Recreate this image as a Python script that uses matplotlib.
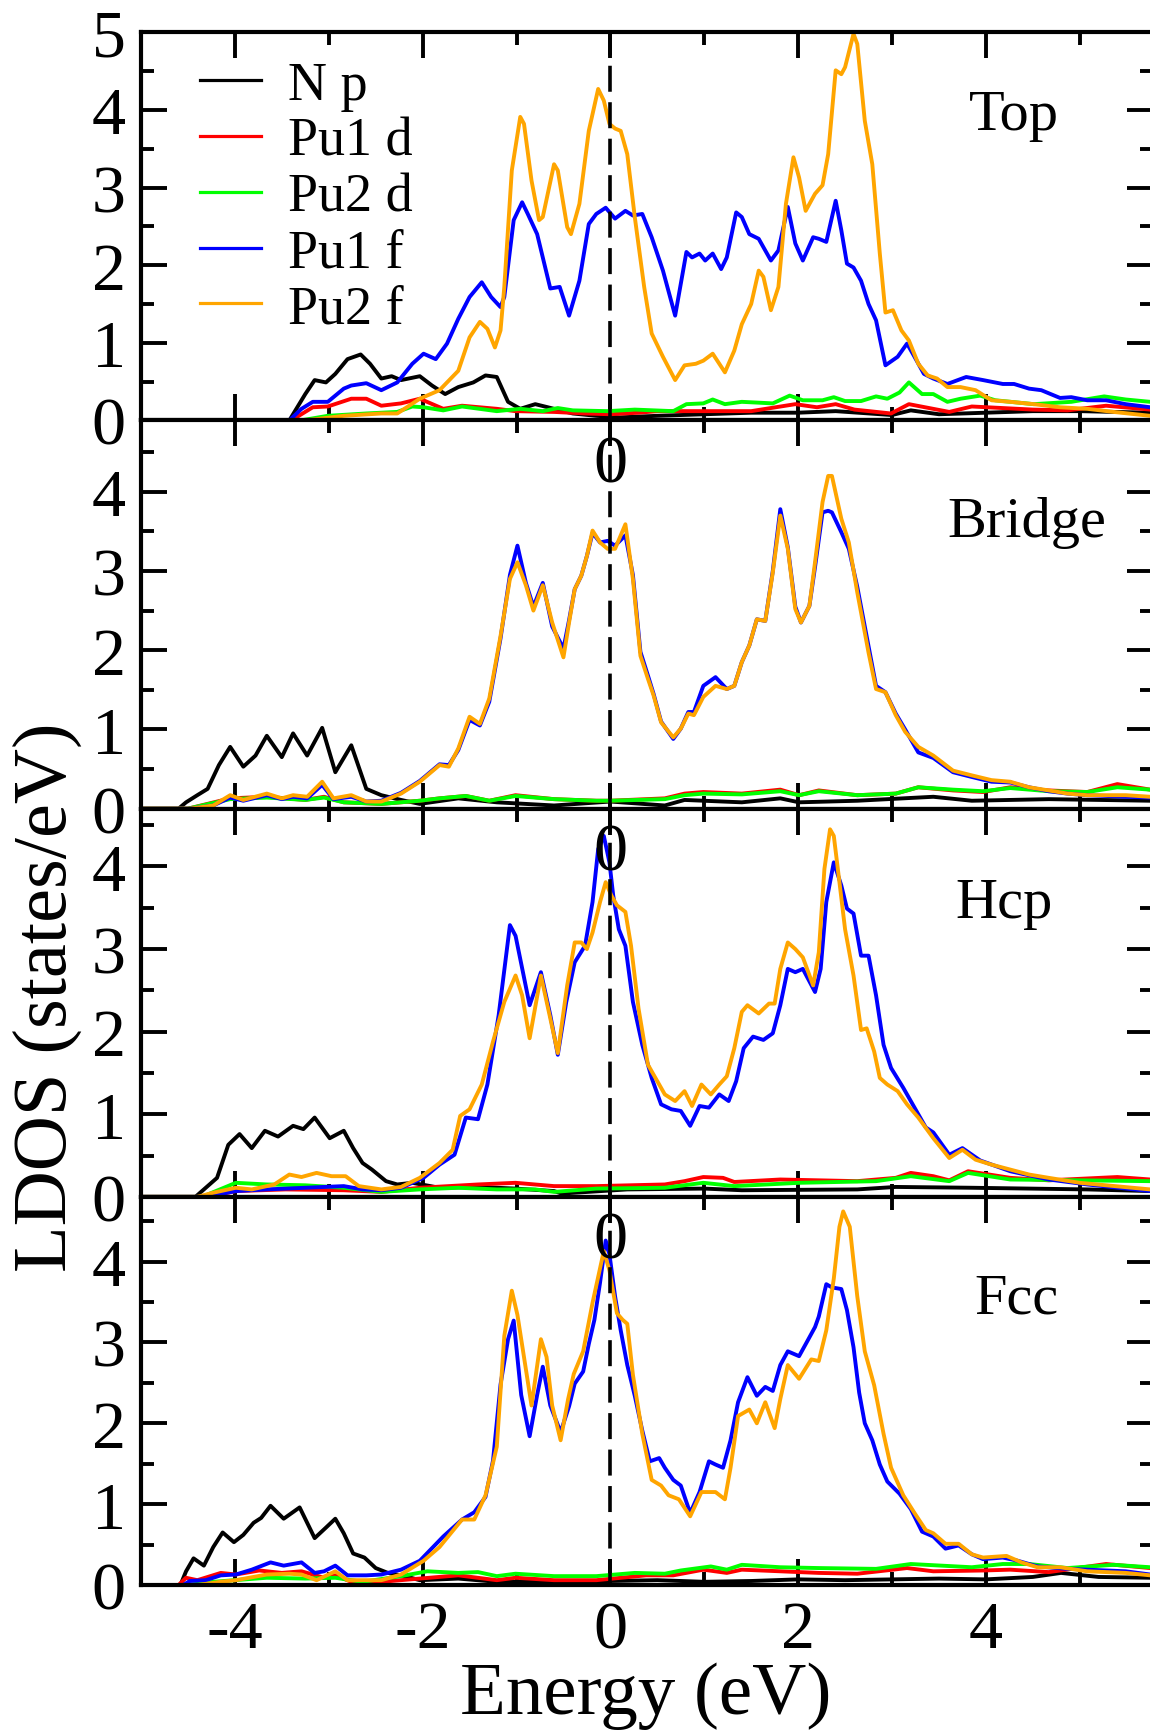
import matplotlib
matplotlib.use("Agg")
import matplotlib.pyplot as plt
from matplotlib.ticker import MultipleLocator

plt.rcParams['font.family'] = ['Liberation Serif', 'DejaVu Serif']
plt.rcParams['axes.unicode_minus'] = False

# ---------------- Top ----------------
top_np_e = [-5.0, -3.42, -3.25, -3.15, -3.03, -2.93, -2.80, -2.66, -2.56, -2.44,
            -2.33, -2.23, -2.03, -1.90, -1.76, -1.62, -1.46, -1.33, -1.21, -1.09,
            -0.96, -0.80, -0.60, -0.40, -0.15, 0.1, 0.5, 1.0, 1.5, 2.0,
            2.4, 3.0, 3.2, 3.5, 4.0, 4.5, 5.0, 5.75]
top_np = [0, 0, 0.34, 0.52, 0.49, 0.60, 0.79, 0.85, 0.73, 0.54,
          0.57, 0.52, 0.57, 0.45, 0.34, 0.43, 0.49, 0.58, 0.56, 0.24,
          0.15, 0.21, 0.15, 0.09, 0.06, 0.04, 0.06, 0.08, 0.10, 0.10,
          0.12, 0.07, 0.13, 0.08, 0.10, 0.12, 0.12, 0.10]

top_pu1d_e = [-5.0, -3.4, -3.17, -3.01, -2.76, -2.60, -2.44, -2.23, -2.03, -1.78,
              -1.58, -1.21, -1.01, -0.60, -0.27, 0.0, 0.3, 0.5, 1.0, 1.5,
              1.97, 2.2, 2.40, 2.6, 2.99, 3.18, 3.61, 3.85, 4.5, 4.87,
              5.28, 5.75]
top_pu1d = [0, 0, 0.17, 0.18, 0.28, 0.28, 0.19, 0.22, 0.28, 0.15,
            0.19, 0.15, 0.12, 0.11, 0.09, 0.08, 0.10, 0.12, 0.12, 0.12,
            0.21, 0.17, 0.21, 0.14, 0.09, 0.21, 0.11, 0.18, 0.14, 0.13,
            0.19, 0.14]

top_pu2d_e = [-5.0, -3.3, -3.01, -2.60, -2.27, -2.11, -1.99, -1.78, -1.58, -1.21,
              -0.96, -0.72, -0.56, -0.40, -0.03, 0.26, 0.67, 0.81, 0.99, 1.09,
              1.22, 1.40, 1.73, 1.91, 2.05, 2.26, 2.38, 2.50, 2.67, 2.83,
              2.95, 3.08, 3.18, 3.32, 3.44, 3.59, 3.73, 3.94, 4.10, 4.51,
              4.91, 5.26, 5.49, 5.75]
top_pu2d = [0, 0, 0.06, 0.09, 0.11, 0.18, 0.17, 0.13, 0.18, 0.12,
            0.15, 0.12, 0.16, 0.13, 0.12, 0.14, 0.12, 0.21, 0.22, 0.27,
            0.21, 0.24, 0.22, 0.32, 0.26, 0.26, 0.30, 0.25, 0.25, 0.31,
            0.28, 0.36, 0.49, 0.34, 0.34, 0.24, 0.28, 0.32, 0.26, 0.21,
            0.24, 0.31, 0.27, 0.24]

top_pu1f_e = [-5.0, -3.42, -3.29, -3.17, -3.01, -2.84, -2.76, -2.60, -2.44, -2.27,
              -2.11, -1.99, -1.86, -1.74, -1.62, -1.50, -1.37, -1.27, -1.17, -1.13,
              -1.03, -0.94, -0.88, -0.78, -0.64, -0.54, -0.44, -0.33, -0.23, -0.15,
              -0.05, 0.05, 0.16, 0.24, 0.34, 0.44, 0.56, 0.69, 0.81, 0.87,
              0.95, 1.01, 1.09, 1.18, 1.24, 1.34, 1.40, 1.48, 1.58, 1.71,
              1.79, 1.89, 1.97, 2.05, 2.16, 2.22, 2.30, 2.40, 2.46, 2.52,
              2.59, 2.67, 2.75, 2.83, 2.93, 3.06, 3.16, 3.24, 3.34, 3.44,
              3.59, 3.79, 3.97, 4.18, 4.30, 4.46, 4.59, 4.79, 4.91, 5.08,
              5.28, 5.49, 5.75]
top_pu1f = [0, 0, 0.15, 0.24, 0.24, 0.41, 0.45, 0.48, 0.39, 0.49,
            0.73, 0.86, 0.79, 0.99, 1.31, 1.59, 1.78, 1.59, 1.46, 1.59,
            2.58, 2.81, 2.66, 2.40, 1.70, 1.72, 1.35, 1.80, 2.53, 2.66,
            2.74, 2.60, 2.70, 2.64, 2.66, 2.36, 1.93, 1.35, 2.17, 2.10,
            2.15, 2.06, 2.15, 1.95, 2.10, 2.68, 2.62, 2.40, 2.34, 2.06,
            2.19, 2.75, 2.28, 2.06, 2.36, 2.34, 2.30, 2.83, 2.45, 2.02,
            1.97, 1.80, 1.50, 1.29, 0.71, 0.82, 0.99, 0.82, 0.60, 0.54,
            0.47, 0.56, 0.52, 0.47, 0.47, 0.41, 0.39, 0.29, 0.30, 0.26,
            0.26, 0.21, 0.17]

top_pu2f_e = [-5.0, -3.25, -2.84, -2.44, -2.27, -2.03, -1.82, -1.62, -1.50, -1.39,
              -1.31, -1.23, -1.17, -1.13, -1.05, -0.96, -0.92, -0.84, -0.76, -0.72,
              -0.60, -0.56, -0.46, -0.42, -0.33, -0.23, -0.13, -0.07, -0.01, 0.05,
              0.11, 0.18, 0.26, 0.36, 0.44, 0.56, 0.69, 0.79, 0.91, 0.99,
              1.09, 1.22, 1.32, 1.40, 1.50, 1.58, 1.63, 1.71, 1.79, 1.87,
              1.95, 2.01, 2.08, 2.18, 2.26, 2.32, 2.40, 2.46, 2.50, 2.59,
              2.63, 2.71, 2.79, 2.87, 2.93, 3.01, 3.10, 3.18, 3.28, 3.38,
              3.48, 3.59, 3.73, 3.89, 4.06, 4.26, 4.51, 4.79, 5.08, 5.36,
              5.75]
top_pu2f = [0, 0, 0.06, 0.09, 0.09, 0.28, 0.39, 0.64, 1.07, 1.27,
            1.18, 0.94, 1.16, 1.72, 3.22, 3.91, 3.82, 3.09, 2.58, 2.62,
            3.30, 3.22, 2.49, 2.40, 2.79, 3.73, 4.27, 4.12, 3.82, 3.76,
            3.73, 3.43, 2.62, 1.72, 1.12, 0.82, 0.52, 0.71, 0.73, 0.77,
            0.86, 0.62, 0.90, 1.24, 1.50, 1.93, 1.85, 1.42, 1.72, 2.79,
            3.39, 3.13, 2.70, 2.92, 3.03, 3.43, 4.51, 4.46, 4.55, 4.98,
            4.85, 3.86, 3.30, 2.15, 1.39, 1.42, 1.16, 1.03, 0.73, 0.58,
            0.54, 0.43, 0.43, 0.39, 0.26, 0.24, 0.21, 0.17, 0.15, 0.11,
            0.06]

# ---------------- Bridge ----------------
br_np_e = [-5.0, -4.60, -4.52, -4.40, -4.29, -4.17, -4.05, -3.91, -3.78, -3.66,
           -3.50, -3.38, -3.23, -3.07, -2.93, -2.76, -2.60, -2.44, -2.23, -2.03,
           -1.62, -1.21, -0.60, 0.0, 0.58, 0.79, 1.40, 1.81, 2.01, 2.63,
           3.44, 3.85, 4.67, 5.75]
br_np = [0, 0, 0.08, 0.17, 0.25, 0.55, 0.78, 0.53, 0.67, 0.92,
         0.65, 0.95, 0.67, 1.02, 0.46, 0.80, 0.25, 0.17, 0.11, 0.06,
         0.13, 0.08, 0.04, 0.09, 0.04, 0.11, 0.08, 0.13, 0.08, 0.10,
         0.15, 0.10, 0.12, 0.10]

br_d_e = [-5.0, -4.5, -4.05, -3.66, -3.25, -3.05, -2.84, -2.44, -2.03, -1.82,
          -1.54, -1.29, -1.01, -0.60, -0.15, 0.0, 0.58, 0.79, 0.99, 1.40,
          1.81, 2.01, 2.22, 2.63, 3.04, 3.28, 3.65, 3.97, 4.26, 4.67,
          5.08, 5.40, 5.75]
br_pu1d = [0, 0, 0.13, 0.15, 0.11, 0.15, 0.08, 0.06, 0.10, 0.13,
           0.16, 0.10, 0.17, 0.12, 0.10, 0.10, 0.13, 0.19, 0.21, 0.19,
           0.24, 0.17, 0.23, 0.17, 0.19, 0.27, 0.23, 0.21, 0.27, 0.23,
           0.21, 0.31, 0.24]
br_pu2d = [0, 0, 0.12, 0.14, 0.11, 0.14, 0.08, 0.06, 0.10, 0.13,
           0.16, 0.10, 0.16, 0.12, 0.10, 0.10, 0.12, 0.17, 0.19, 0.18,
           0.22, 0.17, 0.22, 0.17, 0.19, 0.27, 0.24, 0.22, 0.26, 0.22,
           0.21, 0.27, 0.24]

br_f_e = [-5.0, -4.48, -4.23, -4.05, -3.91, -3.66, -3.50, -3.38, -3.23, -3.07,
          -2.95, -2.76, -2.60, -2.44, -2.23, -2.03, -1.82, -1.72, -1.62, -1.50,
          -1.39, -1.29, -1.17, -1.07, -0.99, -0.90, -0.82, -0.72, -0.62, -0.50,
          -0.44, -0.38, -0.31, -0.25, -0.19, -0.11, -0.03, 0.05, 0.16, 0.24,
          0.32, 0.40, 0.46, 0.54, 0.67, 0.75, 0.83, 0.89, 0.99, 1.12,
          1.24, 1.32, 1.40, 1.48, 1.56, 1.65, 1.73, 1.81, 1.89, 1.97,
          2.03, 2.12, 2.18, 2.26, 2.32, 2.36, 2.46, 2.54, 2.63, 2.75,
          2.83, 2.93, 3.04, 3.14, 3.28, 3.44, 3.65, 3.85, 4.06, 4.26,
          4.46, 4.67, 4.87, 5.08, 5.49, 5.75]
br_pu1f = [0, 0, 0.04, 0.14, 0.10, 0.17, 0.12, 0.15, 0.13, 0.30,
           0.12, 0.15, 0.09, 0.10, 0.20, 0.35, 0.56, 0.55, 0.74, 1.12,
           1.05, 1.35, 2.15, 2.95, 3.32, 2.85, 2.55, 2.85, 2.30, 2.02,
           2.38, 2.77, 2.94, 3.19, 3.48, 3.36, 3.38, 3.32, 3.45, 2.95,
           1.98, 1.68, 1.45, 1.10, 0.88, 1.01, 1.22, 1.22, 1.55, 1.66,
           1.51, 1.55, 1.85, 2.06, 2.39, 2.37, 3.00, 3.78, 3.30, 2.55,
           2.35, 2.56, 3.05, 3.74, 3.76, 3.74, 3.49, 3.28, 2.80, 2.05,
           1.55, 1.47, 1.20, 1.00, 0.71, 0.64, 0.46, 0.40, 0.34, 0.33,
           0.27, 0.22, 0.19, 0.17, 0.15, 0.14]
br_pu2f = [0, 0, 0.04, 0.17, 0.11, 0.19, 0.13, 0.17, 0.15, 0.34,
           0.13, 0.17, 0.09, 0.09, 0.19, 0.34, 0.55, 0.53, 0.76, 1.16,
           1.07, 1.39, 2.18, 2.90, 3.11, 2.82, 2.50, 2.82, 2.35, 1.91,
           2.35, 2.77, 2.94, 3.19, 3.51, 3.36, 3.28, 3.28, 3.59, 2.90,
           1.93, 1.64, 1.43, 1.09, 0.90, 1.01, 1.20, 1.18, 1.41, 1.55,
           1.51, 1.55, 1.85, 2.06, 2.39, 2.37, 2.98, 3.70, 3.28, 2.52,
           2.35, 2.56, 3.11, 3.87, 4.20, 4.20, 3.66, 3.36, 2.73, 1.97,
           1.51, 1.47, 1.18, 0.97, 0.78, 0.67, 0.48, 0.42, 0.36, 0.34,
           0.27, 0.23, 0.19, 0.17, 0.17, 0.15]

# ---------------- Hcp ----------------
hcp_np_e = [-5.0, -4.42, -4.31, -4.19, -4.07, -3.95, -3.82, -3.68, -3.54, -3.38,
            -3.27, -3.15, -2.99, -2.84, -2.74, -2.64, -2.54, -2.39, -2.27, -2.11,
            -1.82, -1.41, -1.01, -0.60, -0.52, 0.18, 1.0, 1.40, 2.63, 3.04,
            3.85, 5.08, 5.75]
hcp_np = [0, 0, 0.11, 0.23, 0.63, 0.76, 0.59, 0.80, 0.73, 0.86,
          0.82, 0.96, 0.71, 0.80, 0.59, 0.41, 0.33, 0.19, 0.15, 0.17,
          0.11, 0.12, 0.10, 0.07, 0.04, 0.09, 0.10, 0.08, 0.09, 0.12,
          0.11, 0.09, 0.07]

hcp_pu1d_e = [-5.0, -4.3, -3.99, -3.46, -2.84, -2.44, -2.03, -1.41, -1.01, -0.60,
              -0.15, 0.58, 0.79, 0.99, 1.20, 1.32, 1.81, 2.63, 3.04, 3.20,
              3.44, 3.61, 3.81, 4.26, 4.67, 5.40, 5.75]
hcp_pu1d = [0, 0, 0.07, 0.09, 0.08, 0.06, 0.11, 0.15, 0.17, 0.13,
            0.13, 0.15, 0.19, 0.24, 0.23, 0.18, 0.21, 0.19, 0.23, 0.29,
            0.25, 0.20, 0.31, 0.23, 0.20, 0.24, 0.21]

hcp_pu2d_e = [-5.0, -4.35, -3.99, -3.66, -3.25, -2.84, -2.44, -2.03, -1.62, -1.21,
              -0.80, -0.60, -0.15, 0.58, 0.99, 1.32, 2.01, 2.83, 3.20, 3.61,
              3.81, 4.26, 5.00, 5.75]
hcp_pu2d = [0, 0, 0.17, 0.15, 0.14, 0.11, 0.06, 0.09, 0.11, 0.09,
            0.09, 0.06, 0.10, 0.11, 0.17, 0.13, 0.17, 0.19, 0.25, 0.19,
            0.29, 0.21, 0.20, 0.19]

hcp_pu1f_e = [-5.0, -4.3, -3.99, -3.66, -3.25, -2.84, -2.64, -2.44, -2.23, -1.99,
              -1.82, -1.66, -1.54, -1.41, -1.31, -1.19, -1.07, -1.01, -0.86, -0.74,
              -0.64, -0.56, -0.47, -0.38, -0.27, -0.19, -0.13, -0.07, -0.01, 0.03,
              0.09, 0.16, 0.24, 0.34, 0.44, 0.54, 0.65, 0.75, 0.85, 0.95,
              1.05, 1.16, 1.26, 1.34, 1.42, 1.52, 1.63, 1.73, 1.81, 1.89,
              1.97, 2.05, 2.18, 2.24, 2.30, 2.38, 2.46, 2.52, 2.59, 2.67,
              2.75, 2.83, 2.91, 2.99, 3.12, 3.24, 3.36, 3.44, 3.61, 3.75,
              3.94, 4.26, 4.67, 5.08, 5.75]
hcp_pu1f = [0, 0, 0.07, 0.09, 0.11, 0.13, 0.09, 0.08, 0.11, 0.23,
            0.39, 0.51, 0.96, 0.94, 1.36, 2.20, 3.29, 3.16, 2.32, 2.72,
            2.20, 1.72, 2.36, 2.84, 3.04, 3.57, 4.21, 4.37, 4.05, 3.65,
            3.24, 3.04, 2.36, 1.84, 1.44, 1.12, 1.06, 1.04, 0.86, 1.10,
            1.08, 1.24, 1.16, 1.40, 1.80, 1.94, 1.90, 1.98, 2.32, 2.76,
            2.72, 2.76, 2.48, 2.76, 3.57, 4.05, 3.77, 3.49, 3.43, 2.92,
            2.92, 2.44, 1.84, 1.56, 1.32, 1.08, 0.84, 0.78, 0.51, 0.59,
            0.44, 0.31, 0.21, 0.15, 0.07]

hcp_pu2f_e = [-5.0, -4.4, -4.23, -3.99, -3.82, -3.58, -3.42, -3.29, -3.13, -2.97,
              -2.82, -2.68, -2.44, -2.23, -2.03, -1.82, -1.68, -1.60, -1.50, -1.37,
              -1.25, -1.13, -1.01, -0.94, -0.86, -0.74, -0.64, -0.56, -0.46, -0.38,
              -0.31, -0.25, -0.19, -0.11, -0.05, 0.01, 0.07, 0.16, 0.22, 0.30,
              0.40, 0.48, 0.58, 0.69, 0.79, 0.87, 0.97, 1.07, 1.16, 1.24,
              1.32, 1.40, 1.46, 1.58, 1.69, 1.75, 1.81, 1.89, 1.97, 2.05,
              2.16, 2.22, 2.28, 2.34, 2.38, 2.44, 2.50, 2.59, 2.67, 2.73,
              2.81, 2.87, 2.95, 3.06, 3.16, 3.28, 3.44, 3.61, 3.75, 3.89,
              4.06, 4.26, 4.46, 4.67, 5.00, 5.28, 5.75]
hcp_pu2f = [0, 0, 0.05, 0.11, 0.09, 0.15, 0.27, 0.24, 0.29, 0.25,
            0.25, 0.13, 0.09, 0.12, 0.23, 0.41, 0.57, 0.98, 1.06, 1.36,
            1.88, 2.36, 2.68, 2.44, 1.92, 2.68, 2.16, 1.74, 2.56, 3.08,
            3.08, 3.00, 3.20, 3.57, 3.81, 3.65, 3.53, 3.45, 3.04, 2.28,
            1.60, 1.44, 1.24, 1.16, 1.28, 1.10, 1.36, 1.24, 1.36, 1.46,
            1.80, 2.24, 2.32, 2.22, 2.34, 2.34, 2.76, 3.08, 3.00, 2.90,
            2.56, 2.96, 3.97, 4.45, 4.37, 3.81, 3.24, 2.68, 2.02, 2.04,
            1.76, 1.44, 1.36, 1.28, 1.12, 0.96, 0.71, 0.47, 0.57, 0.45,
            0.39, 0.33, 0.27, 0.23, 0.17, 0.14, 0.09]

# ---------------- Fcc ----------------
fcc_np_e = [-5.0, -4.58, -4.52, -4.44, -4.33, -4.23, -4.13, -4.01, -3.91, -3.80,
            -3.72, -3.62, -3.48, -3.31, -3.15, -3.03, -2.93, -2.84, -2.74, -2.62,
            -2.50, -2.37, -2.19, -2.03, -1.62, -1.21, -0.60, 0.0, 0.5, 1.0,
            1.5, 2.0, 2.5, 3.0, 3.5, 4.0, 4.5, 4.8, 5.2, 5.75]
fcc_np = [0, 0, 0.17, 0.33, 0.24, 0.47, 0.65, 0.53, 0.62, 0.77,
          0.83, 0.98, 0.82, 0.96, 0.58, 0.71, 0.82, 0.64, 0.39, 0.34,
          0.21, 0.15, 0.11, 0.06, 0.08, 0.04, 0.04, 0.05, 0.06, 0.04,
          0.05, 0.07, 0.06, 0.07, 0.08, 0.07, 0.10, 0.15, 0.10, 0.09]

fcc_pu1d_e = [-5.0, -4.6, -4.52, -4.40, -4.15, -3.99, -3.74, -3.50, -3.29, -3.05,
              -2.93, -2.76, -2.44, -2.03, -1.62, -1.21, -1.01, -0.60, -0.15, 0.38,
              0.67, 0.99, 1.24, 1.40, 1.81, 2.22, 2.63, 3.16, 3.44, 3.97,
              4.26, 4.67, 5.28, 5.75]
fcc_pu1d = [0, 0, 0.09, 0.06, 0.15, 0.13, 0.18, 0.15, 0.17, 0.09,
            0.12, 0.04, 0.04, 0.08, 0.12, 0.06, 0.09, 0.06, 0.06, 0.12,
            0.12, 0.19, 0.15, 0.19, 0.17, 0.15, 0.14, 0.21, 0.17, 0.18,
            0.19, 0.16, 0.26, 0.21]

fcc_pu2d_e = [-5.0, -4.5, -4.23, -3.66, -3.25, -2.93, -2.64, -2.23, -1.95, -1.62,
              -1.41, -1.21, -1.01, -0.60, -0.15, 0.26, 0.58, 0.75, 1.07, 1.24,
              1.40, 1.81, 2.22, 2.83, 3.20, 3.85, 4.18, 4.46, 4.87, 5.36,
              5.75]
fcc_pu2d = [0, 0, 0.04, 0.09, 0.08, 0.09, 0.04, 0.11, 0.17, 0.15,
            0.16, 0.11, 0.14, 0.11, 0.11, 0.15, 0.14, 0.18, 0.23, 0.19,
            0.25, 0.22, 0.21, 0.20, 0.26, 0.22, 0.26, 0.26, 0.21, 0.25,
            0.22]

fcc_pu1f_e = [-5.0, -4.55, -4.48, -4.31, -4.15, -3.99, -3.82, -3.62, -3.48, -3.29,
              -3.15, -3.05, -2.93, -2.80, -2.60, -2.44, -2.23, -2.03, -1.78, -1.58,
              -1.45, -1.33, -1.25, -1.17, -1.09, -1.03, -0.95, -0.86, -0.78, -0.72,
              -0.64, -0.53, -0.44, -0.38, -0.29, -0.23, -0.17, -0.11, -0.05, -0.01,
              0.05, 0.11, 0.18, 0.26, 0.34, 0.42, 0.52, 0.58, 0.67, 0.75,
              0.85, 0.95, 1.05, 1.12, 1.20, 1.28, 1.36, 1.46, 1.56, 1.65,
              1.73, 1.81, 1.89, 2.01, 2.10, 2.18, 2.22, 2.30, 2.36, 2.46,
              2.52, 2.59, 2.65, 2.71, 2.79, 2.87, 2.95, 3.08, 3.20, 3.32,
              3.44, 3.57, 3.71, 3.85, 3.97, 4.18, 4.34, 4.55, 4.87, 5.08,
              5.49, 5.75]
fcc_pu1f = [0, 0, 0.05, 0.06, 0.12, 0.13, 0.19, 0.28, 0.24, 0.28,
            0.15, 0.17, 0.24, 0.12, 0.12, 0.13, 0.19, 0.30, 0.60, 0.81,
            0.90, 1.09, 1.54, 2.48, 3.04, 3.27, 2.35, 1.84, 2.35, 2.70,
            2.22, 1.89, 2.21, 2.49, 2.64, 2.98, 3.28, 3.74, 4.26, 4.09,
            3.57, 3.15, 2.72, 2.34, 1.91, 1.53, 1.57, 1.45, 1.30, 1.23,
            0.89, 1.15, 1.53, 1.49, 1.45, 1.79, 2.26, 2.57, 2.34, 2.45,
            2.40, 2.72, 2.89, 2.83, 3.02, 3.19, 3.32, 3.72, 3.68, 3.66,
            3.40, 2.94, 2.38, 2.00, 1.79, 1.49, 1.28, 1.13, 0.94, 0.66,
            0.60, 0.45, 0.49, 0.38, 0.32, 0.34, 0.30, 0.23, 0.20, 0.19,
            0.17, 0.13]

fcc_pu2f_e = [-5.0, -4.4, -4.15, -3.99, -3.66, -3.42, -3.29, -3.13, -2.93, -2.80,
              -2.44, -2.23, -1.99, -1.82, -1.58, -1.45, -1.33, -1.21, -1.13, -1.05,
              -0.99, -0.84, -0.74, -0.68, -0.62, -0.53, -0.45, -0.39, -0.29, -0.19,
              -0.07, -0.01, 0.07, 0.13, 0.18, 0.24, 0.34, 0.44, 0.54, 0.62,
              0.73, 0.85, 0.97, 1.12, 1.22, 1.28, 1.36, 1.48, 1.56, 1.65,
              1.75, 1.81, 1.89, 2.01, 2.14, 2.22, 2.30, 2.38, 2.44, 2.48,
              2.55, 2.63, 2.71, 2.81, 2.91, 2.99, 3.12, 3.24, 3.36, 3.44,
              3.57, 3.71, 3.85, 3.97, 4.22, 4.38, 4.55, 4.79, 5.08, 5.49,
              5.75]
fcc_pu2f = [0, 0, 0.04, 0.06, 0.13, 0.14, 0.13, 0.06, 0.17, 0.06,
            0.06, 0.13, 0.30, 0.47, 0.81, 0.81, 1.11, 1.71, 3.08, 3.64,
            3.34, 2.22, 3.04, 2.82, 2.22, 1.79, 2.30, 2.61, 2.89, 3.49,
            4.13, 3.89, 3.36, 3.28, 3.23, 2.60, 1.87, 1.30, 1.23, 1.11,
            1.06, 0.85, 1.15, 1.15, 1.06, 1.45, 2.09, 2.17, 2.00, 2.26,
            1.94, 2.30, 2.72, 2.55, 2.79, 2.77, 3.15, 3.79, 4.43, 4.62,
            4.43, 3.57, 2.89, 2.47, 1.87, 1.45, 1.11, 0.89, 0.68, 0.64,
            0.51, 0.51, 0.38, 0.34, 0.36, 0.28, 0.22, 0.22, 0.17, 0.15,
            0.12]

labels = ["N p", "Pu1 d", "Pu2 d", "Pu1 f", "Pu2 f"]
colors = ["black", "red", "#00ff00", "blue", "orange"]

panel_names = ["Top", "Bridge", "Hcp", "Fcc"]
panel_ymax = [5.0, 4.9, 4.7, 4.8]
panel_series = [
    [(top_np_e, top_np), (top_pu1d_e, top_pu1d), (top_pu2d_e, top_pu2d),
     (top_pu1f_e, top_pu1f), (top_pu2f_e, top_pu2f)],
    [(br_np_e, br_np), (br_d_e, br_pu1d), (br_d_e, br_pu2d),
     (br_f_e, br_pu1f), (br_f_e, br_pu2f)],
    [(hcp_np_e, hcp_np), (hcp_pu1d_e, hcp_pu1d), (hcp_pu2d_e, hcp_pu2d),
     (hcp_pu1f_e, hcp_pu1f), (hcp_pu2f_e, hcp_pu2f)],
    [(fcc_np_e, fcc_np), (fcc_pu1d_e, fcc_pu1d), (fcc_pu2d_e, fcc_pu2d),
     (fcc_pu1f_e, fcc_pu1f), (fcc_pu2f_e, fcc_pu2f)],
]
# label placement in axes fraction (x centre, baseline)
name_pos = [(0.863, 0.750), (0.875, 0.702), (0.853, 0.720), (0.865, 0.703)]

fig = plt.figure(figsize=(11.5, 17.33), dpi=100)
left, width, height, bottom0 = 0.1226, 0.88, 0.2240, 0.0848

for i, name in enumerate(panel_names):
    ax = fig.add_axes([left, bottom0 + (3 - i) * height, width, height])
    for (e, d), c, lab in zip(panel_series[i], colors, labels):
        ax.plot(e, d, color=c, lw=2.8, label=lab, solid_joinstyle="round")
    dl, = ax.plot([0, 0], [0, panel_ymax[i]], color="black", lw=2.6)
    dl.set_dashes([7.2, 2.9])

    ax.set_xlim(-5, 5.78)
    ax.set_ylim(0, panel_ymax[i])
    ax.xaxis.set_major_locator(MultipleLocator(2))
    ax.xaxis.set_minor_locator(MultipleLocator(1))
    ax.yaxis.set_major_locator(MultipleLocator(1))
    ax.yaxis.set_minor_locator(MultipleLocator(0.5))
    ax.tick_params(which="both", direction="in", top=True, right=True,
                   width=2.8, labelsize=49, pad=11)
    ax.tick_params(which="major", length=19)
    ax.tick_params(which="minor", length=9.5)
    for sp in ax.spines.values():
        sp.set_linewidth(3.0)
    if i < 3:
        ax.tick_params(labelbottom=False)
    if i > 0:
        ax.text(0, 0.965, "0", transform=ax.get_xaxis_transform(),
                ha="center", va="top", fontsize=49)

    ax.text(name_pos[i][0], name_pos[i][1], name, transform=ax.transAxes,
            ha="center", va="baseline", fontsize=42)

    if i == 0:
        leg = ax.legend(loc="upper left", bbox_to_anchor=(0.058, 0.928),
                        frameon=False, fontsize=39, handlelength=1.13,
                        handletextpad=0.5, labelspacing=0.1, borderpad=0,
                        borderaxespad=0)
        for h in leg.get_lines():
            h.set_linewidth(2.3)

fig.text(0.5617, 0.011, "Energy (eV)", ha="center", va="baseline", fontsize=54)
fig.text(0.041, 0.4247, "LDOS (states/eV)", rotation=90, ha="center",
         va="center", fontsize=55)

fig.savefig("out.png", dpi=100)
